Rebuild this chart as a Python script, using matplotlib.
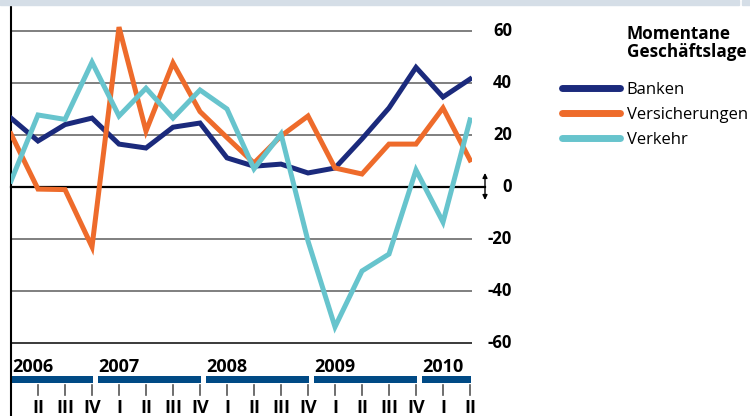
import numpy as np
import matplotlib.pyplot as plt
from matplotlib.patches import Rectangle

# quarters 2006 Q1 .. 2010 Q2
quarters = ["I", "II", "III", "IV"] * 4 + ["I", "II"]
years = ["2006", "2007", "2008", "2009", "2010"]

banken = [26.5, 17.7, 24, 26.5, 16.5, 15, 23, 24.6, 11.2, 8, 8.8, 5.4, 7.3, 18.5, 30.4, 46, 34.6, 41.5]
versicherungen = [20.4, -0.8, -1, -23, 61.5, 21.5, 47.7, 29, 19, 9.2, 19.6, 27.3, 7.3, 5, 16.5, 16.5, 30.4, 10.4]
verkehr = [2.3, 27.7, 26, 48, 27.3, 38, 26.5, 37.3, 30, 7, 20.4, -20.8, -53.8, -32.3, -25.8, 6.5, -13.5, 25.8]

series = [("Banken", banken, "#1b2a7c"),
          ("Versicherungen", versicherungen, "#ee6b2b"),
          ("Verkehr", verkehr, "#67c4cd")]
yticks = [60, 40, 20, 0, -20, -40, -60]

plt.rcParams["font.family"] = ["Open Sans", "DejaVu Sans"]

W, H = 750, 416
fig = plt.figure(figsize=(W / 100, H / 100), dpi=100)

# light header band (with a small break near the right edge)
fig.patches.append(Rectangle((0, 1 - 5 / H), 739 / W, 5 / H, transform=fig.transFigure,
                             color="#d5dee7", zorder=0))
fig.patches.append(Rectangle((742 / W, 1 - 5 / H), 8 / W, 5 / H, transform=fig.transFigure,
                             color="#d5dee7", zorder=0))

# axes: x px 11..472, y px 5..416
left, right, top, bottom = 11, 472, 5, 416
ax = fig.add_axes([left / W, 1 - bottom / H, (right - left) / W, (bottom - top) / H])
px_per_q = 27
ax.set_xlim(0, (right - left) / px_per_q)
px_per_unit = 2.6
y0_px = 187
ax.set_ylim(-(bottom - y0_px) / px_per_unit, (y0_px - top) / px_per_unit)

for s in ["top", "right", "bottom"]:
    ax.spines[s].set_visible(False)
ax.spines["left"].set_linewidth(1.5)
ax.spines["left"].set_color("black")
ax.set_xticks([])
ax.set_yticks([])

x = np.arange(len(quarters))
xmax = ax.get_xlim()[1]

for v in yticks:
    if v == 0:
        ax.plot([0, (485 - left) / px_per_q], [0, 0], color="black", lw=1.6, clip_on=False, zorder=1)
    else:
        c = "#3a3a3a" if v == -60 else "#7f7f7f"
        ax.plot([0, xmax], [v, v], color=c, lw=1.4, zorder=1)
    ax.text((512 - left) / px_per_q, v, f"{v}", ha="right", va="center",
            fontsize=12, fontweight="bold", clip_on=False)

# double arrow at zero
ax.annotate("", xy=((485 - left) / px_per_q, -5.0), xytext=((485 - left) / px_per_q, 5.4),
            arrowprops=dict(arrowstyle="<|-|>", color="black", lw=1.0,
                            mutation_scale=7, shrinkA=0, shrinkB=0),
            annotation_clip=False)

for name, vals, col in series:
    ax.plot(x, vals, color=col, lw=3.6, solid_joinstyle="miter", label=name, zorder=3)

# year bars
bar_top, bar_bot = -(376 - y0_px) / px_per_unit, -(383 - y0_px) / px_per_unit
for k, yr in enumerate(years):
    start = 0.03 if k == 0 else 4 * k - 1 + 0.22
    end = min(4 * k + 3, len(quarters) - 1) + 0.05
    ax.add_patch(Rectangle((start, bar_bot), end - start, bar_top - bar_bot,
                           color="#004a85", lw=0, clip_on=False))
    ax.text(start + 0.02, -(367 - y0_px) / px_per_unit, yr, ha="left", va="center",
            fontsize=13, fontweight="bold")

# quarter ticks and labels
tk_top, tk_bot = -(385 - y0_px) / px_per_unit, -(395 - y0_px) / px_per_unit
for i in x[1:]:
    ax.plot([i, i], [tk_top, tk_bot], color="#555555", lw=1.2, clip_on=False)
    ax.text(i, -(408 - y0_px) / px_per_unit, quarters[i], ha="center", va="center",
            fontsize=13, fontweight="bold", clip_on=False)

# legend
fig.text(627 / W, 1 - 43 / H, "Momentane\nGeschäftslage", ha="left", va="center",
         fontsize=12.3, fontweight="bold", linespacing=1.0)
leg = fig.legend(loc="upper left", bbox_to_anchor=(555 / W, 1 - 75 / H), frameon=False,
                 fontsize=12, handlelength=3.5, handletextpad=0.4, labelspacing=0.55,
                 borderaxespad=0)
for ln in leg.get_lines():
    ln.set_linewidth(5)
    ln.set_solid_capstyle("round")

fig.savefig("out.png", dpi=100)
